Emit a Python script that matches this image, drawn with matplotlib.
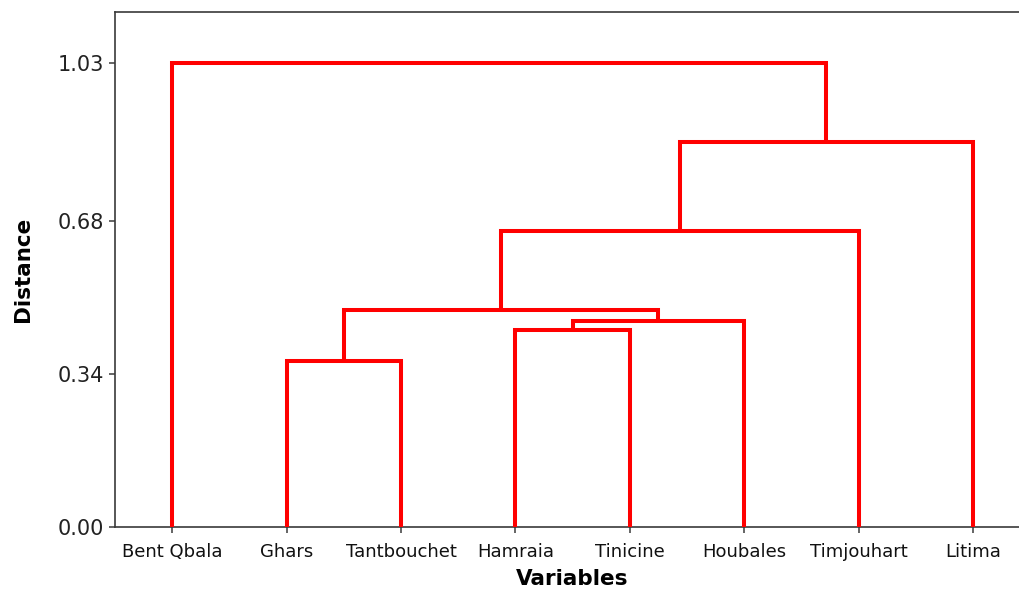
import matplotlib
matplotlib.use("Agg")
import matplotlib.pyplot as plt

# Leaves in display order
leaf_names = ["Bent Qbala", "Ghars", "Tantbouchet", "Hamraia",
              "Tinicine", "Houbales", "Timjouhart", "Litima"]

# Agglomeration steps: (left cluster id, right cluster id); new ids start at len(leaves)
merge_left = [1, 3, 9, 8, 11, 12, 0]
merge_right = [2, 4, 5, 10, 6, 7, 13]
merge_height = [0.368, 0.437, 0.458, 0.481, 0.657, 0.855, 1.03]

y_ticks = [0.00, 0.34, 0.68, 1.03]
y_tick_labels = ["0.00", "0.34", "0.68", "1.03"]

line_color = "#ff0000"
spine_color = "#3a3a3a"

fig = plt.figure(figsize=(10.19, 5.90), dpi=100)
ax = fig.add_axes([0.1129, 0.106, 0.898, 0.874])

n = len(leaf_names)
xpos = {i: float(i + 1) for i in range(n)}
ypos = {i: 0.0 for i in range(n)}

for k, (a, b, h) in enumerate(zip(merge_left, merge_right, merge_height)):
    xa, xb = xpos[a], xpos[b]
    ya, yb = ypos[a], ypos[b]
    ax.plot([xa, xa, xb, xb], [ya, h, h, yb], color=line_color,
            lw=2.9, solid_joinstyle="miter", solid_capstyle="butt", zorder=3)
    new_id = n + k
    xpos[new_id] = (xa + xb) / 2.0
    ypos[new_id] = h

ax.set_xlim(0.5, n + 0.5)
ax.set_ylim(0, 1.143)

ax.set_xticks([xpos[i] for i in range(n)])
ax.set_xticklabels(leaf_names, fontsize=13, color="#111111")
ax.set_yticks(y_ticks)
ax.set_yticklabels(y_tick_labels, fontsize=15, color="#222222")
ax.tick_params(axis="both", direction="out", length=4, width=1.1,
               color=spine_color)
ax.tick_params(axis="x", pad=7)
ax.tick_params(axis="y", pad=4)

for side in ["left", "bottom", "top"]:
    ax.spines[side].set_color(spine_color)
    ax.spines[side].set_linewidth(1.2)
ax.spines["right"].set_visible(False)

ax.set_xlabel("Variables", fontsize=15.5, fontweight="bold", labelpad=6)
ax.set_ylabel("Distance", fontsize=15.5, fontweight="bold", labelpad=18)

fig.savefig("out.png", dpi=100, facecolor="white")
